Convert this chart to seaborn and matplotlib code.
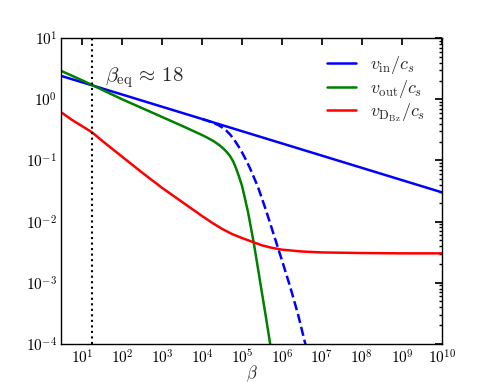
import numpy as np
import pandas as pd
import matplotlib
matplotlib.use("Agg")
import matplotlib.pyplot as plt
import seaborn as sns

# values, stored as log10(beta) / log10(v / c_s)
log_beta_in = [0.477, 1, 2, 3, 4, 5, 6, 7, 8, 9, 10]
log_v_in = [0.382, 0.278, 0.078, -0.122, -0.322, -0.522, -0.722, -0.922, -1.122, -1.322, -1.522]

log_beta_out = [0.477, 1.0, 1.5, 2.0, 2.5, 3.0, 3.5, 4.0, 4.15, 4.3, 4.42, 4.54, 4.62,
                4.7, 4.78, 4.85, 4.92, 5.0, 5.07, 5.15, 5.3, 5.45, 5.6, 5.75]
log_v_out = [0.464, 0.31, 0.155, 0.0, -0.145, -0.29, -0.435, -0.585, -0.635, -0.69,
             -0.745, -0.81, -0.865, -0.93, -1.02, -1.13, -1.26, -1.42, -1.62, -1.85,
             -2.38, -2.98, -3.58, -4.2]

log_beta_dbz = [0.477, 0.75, 1.0, 1.255, 1.5, 2.0, 2.5, 3.0, 3.5, 4.0, 4.25, 4.5, 4.75,
                5.0, 5.25, 5.5, 5.75, 6.0, 6.5, 7.0, 8.0, 9.0, 10.0]
log_v_dbz = [-0.215, -0.34, -0.44, -0.545, -0.68, -0.94, -1.2, -1.45, -1.68, -1.91,
             -2.02, -2.12, -2.205, -2.27, -2.33, -2.39, -2.43, -2.46, -2.49, -2.505,
             -2.515, -2.52, -2.52]

# dashed blue branch
log_beta_in_cut = [4.0, 4.2, 4.4, 4.5, 4.6, 4.7, 4.8, 4.9, 5.0, 5.1, 5.2, 5.4, 5.6,
                   5.8, 6.0, 6.2, 6.4, 6.6, 6.7]
log_v_in_cut = [-0.322, -0.365, -0.42, -0.46, -0.51, -0.575, -0.66, -0.76, -0.87,
                -0.995, -1.13, -1.44, -1.82, -2.23, -2.64, -3.06, -3.52, -4.05, -4.25]

beta_eq = 18
labels = [r"$v_{\mathrm{in}}/c_s$", r"$v_{\mathrm{out}}/c_s$",
          r"$v_{\mathrm{D}_{\mathrm{Bz}}}/c_s$"]


def to_frame(lb, lv):
    return pd.DataFrame({"beta": 10.0 ** np.array(lb), "v": 10.0 ** np.array(lv)})


sns.set_theme(style="white")
plt.rcParams.update({
    "mathtext.fontset": "cm",
    "axes.unicode_minus": False,
    "axes.formatter.use_mathtext": True,
    "xtick.direction": "in",
    "ytick.direction": "in",
    "xtick.top": True,
    "ytick.right": True,
    "xtick.major.size": 5,
    "ytick.major.size": 5,
    "xtick.minor.size": 2.5,
    "ytick.minor.size": 2.5,
    "xtick.minor.visible": True,
    "ytick.minor.visible": True,
    "axes.edgecolor": "black",
    "axes.linewidth": 1.0,
})
plt.rcParams["font.family"] = ["cmr10", "DejaVu Serif"]

fig, ax = plt.subplots(figsize=(4.91, 3.82), dpi=100)
fig.subplots_adjust(left=0.125, right=0.9, bottom=0.1, top=0.9)

kw = dict(x="beta", y="v", estimator=None, sort=False, lw=1.8, ax=ax)
sns.lineplot(data=to_frame(log_beta_in, log_v_in), color="blue", label=labels[0], **kw)
sns.lineplot(data=to_frame(log_beta_out, log_v_out), color="green", label=labels[1], **kw)
sns.lineplot(data=to_frame(log_beta_dbz, log_v_dbz), color="red", label=labels[2], **kw)
sns.lineplot(data=to_frame(log_beta_in_cut, log_v_in_cut), color="blue",
             linestyle="--", **kw)

ax.axvline(beta_eq, color="black", linestyle=":", lw=1.5)
ax.text(0.115, 0.87, r"$\beta_{\mathrm{eq}} \,\approx\, 18$", transform=ax.transAxes,
        fontsize=15, ha="left", va="center")

ax.set_xscale("log")
ax.set_yscale("log")
ax.set_xlim(3, 1e10)
ax.set_ylim(1e-4, 1e1)
ax.set_xticks([10.0 ** k for k in range(1, 11)])
ax.set_yticks([10.0 ** k for k in range(-4, 2)])
ax.tick_params(which="both", labelsize=11, colors="black", pad=3)
ax.set_xlabel(r"$\beta$", fontsize=12)
ax.xaxis.set_label_coords(0.5, -0.066)
ax.set_ylabel("")

ax.legend(loc="upper right", frameon=False, fontsize=13, handlelength=1.6,
          labelspacing=0.08)

fig.savefig("out.png", dpi=100)
